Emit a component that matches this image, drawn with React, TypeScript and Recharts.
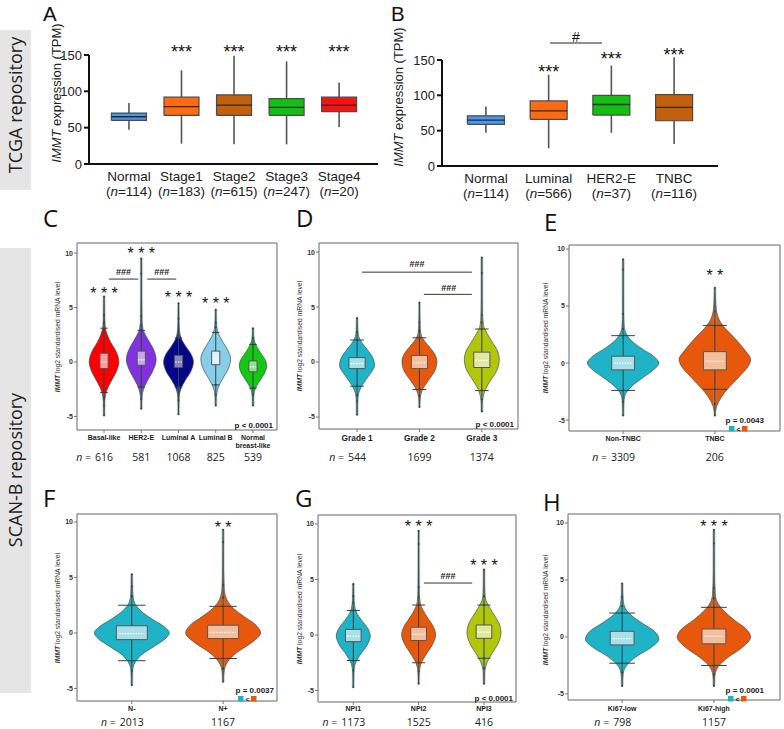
import React from "react";
import {
  ComposedChart,
  Area,
  Line,
  XAxis,
  YAxis,
  ReferenceDot,
  ReferenceLine,
  ReferenceArea,
} from "recharts";

// ---------- A: TCGA, tumour stage ----------
const stageCats = ["Normal", "Stage1", "Stage2", "Stage3", "Stage4"];
const stageCounts = [114, 183, 615, 247, 20];
// [min, q1, median, q3, max] in TPM
const stageStats = [
  [47, 60, 65, 70, 84],
  [28, 67, 79, 92, 129],
  [27, 67, 81, 95, 149],
  [27, 67, 78, 90, 141],
  [51, 72, 81, 92, 112],
];
const stageStars = [null, 155, 155, 155, 155];

// ---------- B: TCGA, subtype ----------
const subtypeCats = ["Normal", "Luminal", "HER2-E", "TNBC"];
const subtypeCounts = [114, 566, 37, 116];
const subtypeStats = [
  [47, 59, 65, 71, 84],
  [25, 66, 78, 92, 129],
  [47, 72, 87, 100, 142],
  [31, 64, 83, 101, 154],
];
const subtypeStars = [null, 134, 152.5, 158];

// ---------- C: SCAN-B, PAM50 ----------
const pamCats = [["Basal-like"], ["HER2-E"], ["Luminal A"], ["Luminal B"], ["Normal", "breast-like"]];
const pamCounts = [616, 581, 1068, 825, 539];
// density outline: [level, relative half width]
const pamBasal = [[-4.9, 0], [-3.8, 0.03], [-3.0, 0.1], [-2.3, 0.28], [-1.6, 0.55], [-0.8, 0.85], [0, 1], [0.6, 0.92], [1.2, 0.72], [1.8, 0.45], [2.5, 0.22], [3.2, 0.08], [4.3, 0.03], [6.0, 0]];
const pamHer2 = [[-4.3, 0], [-3.3, 0.04], [-2.5, 0.15], [-1.7, 0.42], [-0.8, 0.78], [0.2, 1], [0.9, 0.9], [1.6, 0.65], [2.3, 0.35], [3.0, 0.12], [4.0, 0.04], [6.0, 0.02], [9.5, 0]];
const pamLumA = [[-4.8, 0], [-3.3, 0.04], [-2.5, 0.15], [-1.7, 0.45], [-0.8, 0.85], [0, 1], [0.7, 0.85], [1.4, 0.5], [2.1, 0.2], [2.8, 0.07], [3.8, 0.03], [5.4, 0]];
const pamLumB = [[-4.0, 0], [-3.0, 0.05], [-2.3, 0.18], [-1.5, 0.48], [-0.6, 0.85], [0.3, 1], [1.1, 0.8], [1.9, 0.45], [2.6, 0.18], [3.3, 0.06], [4.8, 0]];
const pamNormal = [[-4.0, 0], [-3.0, 0.05], [-2.3, 0.2], [-1.6, 0.52], [-0.8, 0.85], [-0.3, 0.92], [0.3, 0.78], [0.9, 0.48], [1.5, 0.22], [2.1, 0.07], [3.1, 0]];
// [whisker low, q1, median, q3, whisker high]
const pamStats = [
  [-2.8, -0.6, 0.0, 0.8, 3.1],
  [-2.3, -0.3, 0.2, 1.0, 2.9],
  [-2.3, -0.5, 0.0, 0.6, 2.2],
  [-2.1, -0.25, 0.3, 1.0, 2.7],
  [-2.4, -0.9, -0.45, 0.1, 1.6],
];
const pamOutliers = [
  [-4.9, -4.0, -3.3, 3.6, 4.3, 6.0],
  [-4.3, -3.4, 3.4, 4.2, 8.1, 9.5],
  [-4.8, -3.5, -2.9, 2.8, 4.0, 5.4],
  [-4.0, -3.0, 3.2, 3.6, 4.8],
  [-4.0, -3.0, 2.2, 3.1],
];

// ---------- D: grade ----------
const gradeCats = [["Grade 1"], ["Grade 2"], ["Grade 3"]];
const gradeCounts = [544, 1699, 1374];
const grade1 = [[-4.8, 0], [-3.6, 0.03], [-2.8, 0.1], [-2.1, 0.3], [-1.3, 0.65], [-0.3, 1], [0.4, 0.9], [1.1, 0.6], [1.7, 0.3], [2.3, 0.1], [2.9, 0.04], [4.0, 0]];
const grade2 = [[-4.1, 0], [-3.2, 0.05], [-2.5, 0.18], [-1.7, 0.5], [-0.8, 0.88], [0, 1], [0.7, 0.88], [1.4, 0.55], [2.0, 0.25], [2.6, 0.08], [3.5, 0.03], [5.4, 0]];
const grade3 = [[-4.5, 0], [-3.5, 0.04], [-2.7, 0.15], [-1.8, 0.45], [-0.8, 0.85], [0.2, 1], [1.0, 0.9], [1.8, 0.6], [2.6, 0.3], [3.3, 0.1], [4.3, 0.04], [6.0, 0.015], [9.5, 0]];
const gradeStats = [
  [-2.2, -0.6, -0.15, 0.4, 2.0],
  [-2.5, -0.6, -0.05, 0.6, 2.2],
  [-2.6, -0.5, 0.15, 0.9, 3.0],
];
const gradeOutliers = [
  [-4.8, -3.6, -3.0, 2.7, 4.0],
  [-4.1, -3.1, 2.8, 3.6, 5.4],
  [-4.5, -3.4, 3.6, 4.3, 8.1, 9.5],
];

// ---------- E: TNBC ----------
const tnbcCats = [["Non-TNBC"], ["TNBC"]];
const tnbcCounts = [3309, 206];
const tnbcNo = [[-4.6, 0], [-3.4, 0.02], [-2.7, 0.07], [-2.1, 0.22], [-1.4, 0.5], [-0.6, 0.85], [0, 1], [0.6, 0.85], [1.3, 0.5], [1.9, 0.25], [2.5, 0.1], [3.2, 0.03], [4.5, 0.01], [9.1, 0]];
const tnbcYes = [[-4.6, 0], [-3.8, 0.05], [-3.0, 0.18], [-2.2, 0.38], [-1.2, 0.68], [-0.2, 0.95], [0.3, 1], [1.2, 0.82], [2.2, 0.55], [3.0, 0.3], [3.8, 0.12], [4.5, 0.05], [5.5, 0.02], [6.6, 0]];
const tnbcStats = [
  [-2.4, -0.6, 0.0, 0.6, 2.4],
  [-2.3, -0.6, 0.15, 1.0, 3.3],
];
const tnbcOutliers = [
  [-4.6, -3.4, 3.0, 4.3, 8.2, 9.1],
  [-4.6, -3.6, 4.5, 6.6],
];

// ---------- F: nodal status ----------
const nodeCats = [["N-"], ["N+"]];
const nodeCounts = [2013, 1167];
const nodeNeg = [[-4.7, 0], [-3.4, 0.02], [-2.7, 0.08], [-2.0, 0.25], [-1.2, 0.6], [-0.4, 0.93], [0, 1], [0.6, 0.85], [1.3, 0.52], [2.0, 0.24], [2.6, 0.09], [3.4, 0.03], [5.3, 0]];
const nodePos = [[-4.4, 0], [-3.4, 0.03], [-2.6, 0.12], [-1.8, 0.35], [-0.9, 0.75], [0, 1], [0.7, 0.88], [1.5, 0.55], [2.2, 0.28], [3.0, 0.1], [4.0, 0.03], [6.0, 0.01], [9.3, 0]];
const nodeStats = [
  [-2.5, -0.6, -0.05, 0.65, 2.5],
  [-2.3, -0.5, 0.05, 0.7, 2.4],
];
const nodeOutliers = [
  [-4.7, -3.4, 3.3, 4.2, 5.3],
  [-4.4, -3.2, 3.2, 4.3, 8.2, 9.3],
];

// ---------- G: NPI ----------
const npiCats = [["NPI1"], ["NPI2"], ["NPI3"]];
const npiCounts = [1173, 1525, 416];
const npi1 = [[-4.7, 0], [-3.4, 0.03], [-2.6, 0.12], [-1.8, 0.4], [-0.9, 0.82], [-0.1, 1], [0.6, 0.85], [1.3, 0.5], [2.0, 0.2], [2.7, 0.07], [3.5, 0.03], [4.6, 0]];
const npi2 = [[-4.4, 0], [-3.3, 0.04], [-2.6, 0.14], [-1.8, 0.42], [-0.9, 0.8], [0, 1], [0.7, 0.88], [1.5, 0.55], [2.2, 0.27], [2.9, 0.09], [4.0, 0.03], [6.0, 0.01], [9.4, 0]];
const npi3 = [[-4.4, 0], [-3.2, 0.05], [-2.4, 0.2], [-1.6, 0.5], [-0.7, 0.85], [0.2, 1], [1.0, 0.9], [1.8, 0.6], [2.5, 0.32], [3.1, 0.12], [3.8, 0.05], [5.9, 0]];
const npiStats = [
  [-2.3, -0.6, -0.1, 0.5, 2.2],
  [-2.5, -0.5, 0.05, 0.7, 2.7],
  [-2.1, -0.3, 0.25, 0.9, 2.7],
];
const npiOutliers = [
  [-4.7, -3.2, 2.9, 3.5, 4.6],
  [-4.4, -3.3, 3.4, 4.3, 8.2, 9.4],
  [-4.4, -3.0, 3.5, 5.9],
];

// ---------- H: Ki67 ----------
const kiCats = [["Ki67-low"], ["Ki67-high"]];
const kiCounts = [798, 1157];
const kiLow = [[-4.3, 0], [-3.2, 0.03], [-2.5, 0.12], [-1.7, 0.4], [-0.9, 0.8], [-0.2, 1], [0.5, 0.88], [1.2, 0.55], [1.9, 0.25], [2.5, 0.09], [3.2, 0.03], [4.7, 0]];
const kiHigh = [[-4.3, 0], [-3.3, 0.03], [-2.6, 0.12], [-1.8, 0.38], [-0.9, 0.78], [0, 1], [0.7, 0.88], [1.5, 0.55], [2.3, 0.27], [3.0, 0.1], [3.7, 0.04], [6.0, 0.01], [9.4, 0]];
const kiStats = [
  [-2.3, -0.7, -0.15, 0.5, 2.1],
  [-2.5, -0.6, 0.05, 0.7, 2.6],
];
const kiOutliers = [
  [-4.3, -3.1, 2.7, 3.5, 4.7],
  [-4.3, -3.3, 3.4, 4.3, 8.2, 9.4],
];

const CYAN = "#1fb3c8";
const CYAN_BOX = "#a6e0e8";
const ORANGE = "#e8580c";
const ORANGE_BOX = "#f5bd9c";
const LIME = "#b3c70a";
const LIME_BOX = "#e1e99f";

const ARIAL = "Liberation Sans, Arial, sans-serif";
const SANS = "Open Sans, Noto Sans, sans-serif";
const noAnim = { isAnimationActive: false, dot: false, activeDot: false } as any;
const hidden = () => <g />;

// ---------- box plot panel (A, B) ----------
const BoxTick = (props: any) => {
  const { x, y, payload, cats, counts } = props;
  const i = Math.round(payload.value);
  return (
    <g fontFamily={ARIAL} fontSize={13.5} fill="#222">
      <text x={x} y={y + 17} textAnchor="middle">{cats[i]}</text>
      <text x={x} y={y + 32} textAnchor="middle">
        (<tspan fontStyle="italic">n</tspan>={counts[i]})
      </text>
    </g>
  );
};

function BoxPanel(p: any) {
  const yw = 40;
  const xh = 40;
  const margin = {
    left: p.plot[0] - p.left - yw,
    right: p.left + p.width - p.plot[1],
    top: p.plot[2] - p.top,
    bottom: p.top + p.height - p.plot[3] - xh,
  };
  const bh = p.boxHalf;
  return (
    <div style={{ position: "absolute", left: p.left, top: p.top }}>
      <ComposedChart width={p.width} height={p.height} margin={margin}>
        <XAxis
          type="number"
          dataKey="x"
          domain={p.xDomain}
          ticks={p.cats.map((_: any, i: number) => i)}
          interval={0}
          height={xh}
          axisLine={{ stroke: "#111", strokeWidth: 2 }}
          tickLine={false}
          tickSize={0}
          tickMargin={0}
          tick={(t: any) => <BoxTick {...t} cats={p.cats} counts={p.counts} />}
        />
        <YAxis
          type="number"
          domain={[0, 160]}
          ticks={[0, 25, 50, 75, 100, 125, 150]}
          width={yw}
          axisLine={false}
          tickLine={{ stroke: "#111", strokeWidth: 2 }}
          tickSize={5}
          tick={{ fontSize: 13, fill: "#222", fontFamily: ARIAL }}
        />
        <ReferenceLine
          segment={[{ x: p.xDomain[0], y: 0 }, { x: p.xDomain[0], y: 150 }]}
          stroke="#111"
          strokeWidth={2}
          ifOverflow="visible"
        />
        {p.stats.map(([lo, q1, md, q3, hi]: number[], i: number) => [
          <Line key={`wl${i}`} data={[{ x: i, v: lo }, { x: i, v: q1 }]} dataKey="v" stroke="#555" strokeWidth={1.6} {...noAnim} />,
          <Line key={`wh${i}`} data={[{ x: i, v: q3 }, { x: i, v: hi }]} dataKey="v" stroke="#555" strokeWidth={1.6} {...noAnim} />,
          <Area key={`bx${i}`} data={[{ x: i - bh, r: [q1, q3] }, { x: i + bh, r: [q1, q3] }]} dataKey="r" type="linear" stroke="none" fill={p.fills[i]} fillOpacity={1} {...noAnim} />,
          <Line
            key={`bo${i}`}
            data={[
              { x: i - bh, v: q1 },
              { x: i + bh, v: q1 },
              { x: i + bh, v: q3 },
              { x: i - bh, v: q3 },
              { x: i - bh, v: q1 },
            ]}
            dataKey="v"
            stroke="#4a4a4a"
            strokeWidth={1.2}
            {...noAnim}
          />,
          <Line key={`md${i}`} data={[{ x: i - bh, v: md }, { x: i + bh, v: md }]} dataKey="v" stroke="#2a2a2a" strokeWidth={1.3} {...noAnim} />,
        ])}
        {p.stars.map((s: number | null, i: number) =>
          s == null ? null : (
            <ReferenceDot
              key={`st${i}`}
              x={i}
              y={s}
              r={0}
              ifOverflow="visible"
              shape={hidden}
              label={{ value: "***", position: "center", fontSize: 18, fill: "#111", fontFamily: ARIAL }}
            />
          )
        )}
        {p.bracket && (
          <ReferenceLine
            segment={[{ x: p.bracket[0], y: p.bracket[2] }, { x: p.bracket[1], y: p.bracket[2] }]}
            stroke="#222"
            strokeWidth={1.2}
            ifOverflow="visible"
          />
        )}
        {p.bracket && (
          <ReferenceDot
            x={(p.bracket[0] + p.bracket[1]) / 2}
            y={p.bracket[3]}
            r={0}
            ifOverflow="visible"
            shape={hidden}
            label={{ value: "#", position: "center", fontSize: 14, fill: "#111", fontFamily: ARIAL }}
          />
        )}
      </ComposedChart>
    </div>
  );
}

// ---------- violin panel (C - H) ----------
const ViolinTick = (props: any) => {
  const { x, y, payload, cats, counts, labelSize, labelDy, countDy } = props;
  const i = Math.round(payload.value);
  const base = y - 3;
  const numW = String(counts[i]).length * 6;
  return (
    <g>
      {cats[i].map((t: string, k: number) => (
        <text key={k} x={x} y={base + labelDy + k * 8} textAnchor="middle" fontSize={labelSize} fontWeight={700} fontFamily={ARIAL} fill="#222">
          {t}
        </text>
      ))}
      <text x={x} y={base + countDy} textAnchor="middle" fontSize={10.5} fontFamily={SANS} fill="#222">
        {counts[i]}
      </text>
      {i === 0 && (
        <text x={x - numW / 2 - 4} y={base + countDy} textAnchor="end" fontSize={10.5} fontFamily={SANS} fill="#222">
          <tspan fontStyle="italic">n</tspan> =
        </text>
      )}
    </g>
  );
};

function ViolinPanel(p: any) {
  const yw = p.yw ?? 20;
  const xh = p.xh;
  const margin = {
    left: p.plot[0] - p.left - yw,
    right: p.left + p.width - p.plot[1],
    top: p.plot[2] - p.top,
    bottom: p.top + p.height - p.plot[3] - xh,
  };
  const hw = p.halfWidth;
  const bh = p.boxHalf;
  const ch = p.capHalf;
  return (
    <div style={{ position: "absolute", left: p.left, top: p.top }}>
      <ComposedChart layout="vertical" width={p.width} height={p.height} margin={margin}>
        <XAxis
          type="number"
          domain={p.xDomain}
          ticks={p.cats.map((_: any, i: number) => i)}
          interval={0}
          height={xh}
          axisLine={false}
          tickLine={{ stroke: "#777" }}
          tickSize={3}
          tickMargin={0}
          tick={(t: any) => (
            <ViolinTick {...t} cats={p.cats} counts={p.counts} labelSize={p.labelSize} labelDy={p.labelDy} countDy={p.countDy} />
          )}
        />
        <YAxis
          type="number"
          dataKey="y"
          reversed
          domain={p.yDomain}
          ticks={[-5, 0, 5, 10]}
          width={yw}
          axisLine={false}
          tickLine={{ stroke: "#777" }}
          tickSize={3}
          tickMargin={1}
          tick={{ fontSize: 7, fontWeight: 700, fill: "#333", fontFamily: ARIAL }}
        />
        <ReferenceArea
          x1={p.xDomain[0]}
          x2={p.xDomain[1]}
          y1={p.yDomain[0]}
          y2={p.yDomain[1]}
          fill="none"
          stroke="#666"
          strokeWidth={1}
          ifOverflow="visible"
        />
        {p.profiles.map((prof: number[][], i: number) => {
          const [wlo, q1, md, q3, whi] = p.stats[i];
          const outs = p.outliers[i];
          const lower = [...outs.filter((v: number) => v < wlo), wlo].map((v: number) => ({ y: v, v: i }));
          const upper = [whi, ...outs.filter((v: number) => v > whi)].map((v: number) => ({ y: v, v: i }));
          return [
            <Area
              key={`vi${i}`}
              data={prof.map(([y, w]) => ({ y, r: [i - w * hw, i + w * hw] }))}
              dataKey="r"
              type="monotone"
              fill={p.fills[i]}
              fillOpacity={1}
              stroke="#3e4e4e"
              strokeWidth={0.7}
              {...noAnim}
            />,
            <Line key={`gl${i}`} data={lower} dataKey="v" stroke="#6f9090" strokeOpacity={0.5} strokeWidth={3} {...noAnim} />,
            <Line key={`gu${i}`} data={upper} dataKey="v" stroke="#6f9090" strokeOpacity={0.5} strokeWidth={3} {...noAnim} />,
            <Line
              key={`tl${i}`}
              data={lower}
              dataKey="v"
              stroke="#2c4444"
              strokeWidth={0.8}
              isAnimationActive={false}
              activeDot={false}
              dot={{ r: 1, fill: "#2c4444", stroke: "none" }}
            />,
            <Line
              key={`tu${i}`}
              data={upper}
              dataKey="v"
              stroke="#2c4444"
              strokeWidth={0.8}
              isAnimationActive={false}
              activeDot={false}
              dot={{ r: 1, fill: "#2c4444", stroke: "none" }}
            />,
            <Line key={`wl${i}`} data={[{ y: wlo, v: i }, { y: q1, v: i }]} dataKey="v" stroke="#2c4444" strokeWidth={1} {...noAnim} />,
            <Line key={`wh${i}`} data={[{ y: q3, v: i }, { y: whi, v: i }]} dataKey="v" stroke="#2c4444" strokeWidth={1} {...noAnim} />,
            <Line key={`cl${i}`} data={[{ y: wlo, v: i - ch }, { y: wlo, v: i + ch }]} dataKey="v" stroke="#2c4444" strokeWidth={1} {...noAnim} />,
            <Line key={`ch${i}`} data={[{ y: whi, v: i - ch }, { y: whi, v: i + ch }]} dataKey="v" stroke="#2c4444" strokeWidth={1} {...noAnim} />,
            <Area
              key={`bx${i}`}
              data={[{ y: q1, r: [i - bh, i + bh] }, { y: q3, r: [i - bh, i + bh] }]}
              dataKey="r"
              type="linear"
              fill={p.boxFills[i]}
              fillOpacity={1}
              stroke="none"
              {...noAnim}
            />,
            <Line
              key={`bo${i}`}
              data={[
                { y: q1, v: i - bh },
                { y: q1, v: i + bh },
                { y: q3, v: i + bh },
                { y: q3, v: i - bh },
                { y: q1, v: i - bh },
              ]}
              dataKey="v"
              stroke="#555"
              strokeWidth={1}
              {...noAnim}
            />,
            <Line
              key={`md${i}`}
              data={[{ y: md, v: i - bh * 0.8 }, { y: md, v: i + bh * 0.8 }]}
              dataKey="v"
              stroke="#ffffff"
              strokeWidth={1.2}
              strokeDasharray="1.5 1.2"
              {...noAnim}
            />,
          ];
        })}
        {(p.stars || []).map((s: any, k: number) => (
          <ReferenceDot
            key={`st${k}`}
            x={s.x}
            y={s.y}
            r={0}
            ifOverflow="visible"
            shape={hidden}
            label={{ value: s.text, position: "center", fontSize: 16, fill: "#111", fontFamily: ARIAL }}
          />
        ))}
        {(p.brackets || []).map((b: any, k: number) => (
          <ReferenceLine
            key={`br${k}`}
            segment={[{ x: b.x1, y: b.y }, { x: b.x2, y: b.y }]}
            stroke="#333"
            strokeWidth={1}
            ifOverflow="visible"
          />
        ))}
        {(p.brackets || []).map((b: any, k: number) => (
          <ReferenceDot
            key={`bl${k}`}
            x={b.lx}
            y={b.ly}
            r={0}
            ifOverflow="visible"
            shape={hidden}
            label={{ value: "###", position: "center", fontSize: 9, fontWeight: 700, fill: "#222", fontFamily: ARIAL }}
          />
        ))}
      </ComposedChart>
    </div>
  );
}

// ---------- static text overlay ----------
const Letter = ({ x, y, t, s = 24, f = SANS }: any) => (
  <text x={x} y={y} fontSize={s} fontFamily={f} fill="#111">
    {t}
  </text>
);

const ViolinTitle = ({ x, y }: any) => (
  <text x={x} y={y} transform={`rotate(-90 ${x} ${y})`} textAnchor="middle" fontSize={6.8} fontFamily={ARIAL} fill="#333">
    <tspan fontWeight={700} fontStyle="italic">IMMT</tspan> log2 standardised mRNA level
  </text>
);

const PText = ({ x, y, t }: any) => (
  <text x={x} y={y} textAnchor="end" fontSize={8} fontWeight={700} fontFamily={ARIAL} fill="#222">
    {t}
  </text>
);

const Legend = ({ x, y }: any) => (
  <g>
    <rect x={x} y={y} width={5.5} height={5.5} fill={CYAN} />
    <text x={x + 9.5} y={y + 5.5} textAnchor="middle" fontSize={7} fontWeight={700} fontFamily={ARIAL} fill="#222">{"<"}</text>
    <rect x={x + 13} y={y} width={5.5} height={5.5} fill={ORANGE} />
  </g>
);

const Overlay = () => (
  <svg width={784} height={729} style={{ position: "absolute", left: 0, top: 0, pointerEvents: "none" }}>
    <rect x={0} y={30} width={31} height={160} fill="#e5e5e5" />
    <rect x={0} y={248} width={31} height={445} fill="#e5e5e5" />
    <text x={22} y={105} transform="rotate(-90 22 105)" textAnchor="middle" fontSize={18} fontFamily={SANS} fill="#222">
      TCGA repository
    </text>
    <text x={22} y={470} transform="rotate(-90 22 470)" textAnchor="middle" fontSize={18} fontFamily={SANS} fill="#222">
      SCAN-B repository
    </text>
    <Letter x={43} y={21} t="A" s={20.5} f={ARIAL} />
    <Letter x={391} y={21} t="B" s={20.5} f={ARIAL} />
    <Letter x={43} y={227} t="C" />
    <Letter x={296} y={227} t="D" />
    <Letter x={544} y={231} t="E" />
    <Letter x={43} y={507} t="F" />
    <Letter x={295} y={507} t="G" />
    <Letter x={543} y={511} t="H" />
    <text x={61} y={93} transform="rotate(-90 61 93)" textAnchor="middle" fontSize={13} fontFamily={ARIAL} fill="#222">
      <tspan fontStyle="italic">IMMT</tspan> expression (TPM)
    </text>
    <text x={403} y={97} transform="rotate(-90 403 97)" textAnchor="middle" fontSize={13} fontFamily={ARIAL} fill="#222">
      <tspan fontStyle="italic">IMMT</tspan> expression (TPM)
    </text>
    <ViolinTitle x={60} y={337} />
    <ViolinTitle x={302} y={336} />
    <ViolinTitle x={548} y={338} />
    <ViolinTitle x={60} y={608} />
    <ViolinTitle x={302} y={609} />
    <ViolinTitle x={548} y={610} />
    <PText x={273} y={428} t="p < 0.0001" />
    <PText x={514} y={427} t="p < 0.0001" />
    <PText x={764} y={423} t="p = 0.0043" />
    <Legend x={729} y={426} />
    <PText x={274} y={693} t="p = 0.0037" />
    <Legend x={238} y={696} />
    <PText x={513} y={701} t="p < 0.0001" />
    <PText x={764} y={693} t="p = 0.0001" />
    <Legend x={728} y={696} />
  </svg>
);

export default function App() {
  return (
    <div style={{ position: "absolute", left: 0, top: 0, width: 784, height: 729, overflow: "hidden", background: "#fff" }}>
      <BoxPanel
        left={0} top={0} width={392} height={205}
        plot={[89, 378, 47.7, 164]}
        xDomain={[-0.76, 4.74]}
        cats={stageCats} counts={stageCounts} stats={stageStats}
        fills={["#4a98ee", "#ff6a13", "#c2600b", "#12c012", "#ff1010"]}
        boxHalf={0.333}
        stars={stageStars}
      />
      <BoxPanel
        left={392} top={0} width={392} height={205}
        plot={[442, 718, 52.9, 166]}
        xDomain={[-0.7, 3.7]}
        cats={subtypeCats} counts={subtypeCounts} stats={subtypeStats}
        fills={["#4a98ee", "#ff6a13", "#12c012", "#c2600b"]}
        boxHalf={0.295}
        stars={subtypeStars}
        bracket={[1.02, 1.85, 174, 182.5]}
      />
      <ViolinPanel
        left={40} top={236} width={252} height={236} xh={36}
        plot={[77, 277, 243, 430]}
        xDomain={[-0.726, 4.645]} yDomain={[-6.24, 10.92]}
        cats={pamCats} counts={pamCounts}
        profiles={[pamBasal, pamHer2, pamLumA, pamLumB, pamNormal]}
        stats={pamStats} outliers={pamOutliers}
        fills={["#ff0000", "#8131dd", "#06068a", "#87ceeb", "#12c812"]}
        boxFills={["#ff9c9c", "#c7a5f0", "#8585c4", "#e0f3fb", "#8fe28f"]}
        halfWidth={0.4} boxHalf={0.11} capHalf={0.1}
        labelSize={7} labelDy={9.5} countDy={30.5}
        stars={[
          { x: 0, y: 6.26, text: "* * *" },
          { x: 1, y: 10.0, text: "* * *" },
          { x: 2, y: 5.98, text: "* * *" },
          { x: 3, y: 5.34, text: "* * *" },
        ]}
        brackets={[
          { x1: 0.13, x2: 0.92, y: 7.61, lx: 0.52, ly: 8.26 },
          { x1: 1.16, x2: 1.94, y: 7.61, lx: 1.55, ly: 8.26 },
        ]}
      />
      <ViolinPanel
        left={300} top={236} width={236} height={236} xh={36} yw={18}
        plot={[319, 518, 243, 429]}
        xDomain={[-0.61, 2.58]} yDomain={[-6.09, 10.82]}
        cats={gradeCats} counts={gradeCounts}
        profiles={[grade1, grade2, grade3]}
        stats={gradeStats} outliers={gradeOutliers}
        fills={[CYAN, ORANGE, LIME]}
        boxFills={[CYAN_BOX, ORANGE_BOX, LIME_BOX]}
        halfWidth={0.28} boxHalf={0.13} capHalf={0.11}
        labelSize={8.3} labelDy={12} countDy={31.5}
        brackets={[
          { x1: 0.08, x2: 1.84, y: 8.17, lx: 0.96, ly: 8.9 },
          { x1: 1.07, x2: 1.84, y: 6.15, lx: 1.47, ly: 6.79 },
        ]}
      />
      <ViolinPanel
        left={548} top={236} width={236} height={236} xh={36}
        plot={[569, 780, 245, 431]}
        xDomain={[-0.59, 1.71]} yDomain={[-5.96, 10.35]}
        cats={tnbcCats} counts={tnbcCounts}
        profiles={[tnbcNo, tnbcYes]}
        stats={tnbcStats} outliers={tnbcOutliers}
        fills={[CYAN, ORANGE]}
        boxFills={[CYAN_BOX, ORANGE_BOX]}
        halfWidth={0.39} boxHalf={0.125} capHalf={0.13}
        labelSize={7} labelDy={10.2} countDy={29.5}
        stars={[{ x: 1, y: 7.7, text: "* *" }]}
      />
      <ViolinPanel
        left={40} top={506} width={252} height={223} xh={28}
        plot={[77, 277, 514, 701]}
        xDomain={[-0.6, 1.59]} yDomain={[-6.13, 10.72]}
        cats={nodeCats} counts={nodeCounts}
        profiles={[nodeNeg, nodePos]}
        stats={nodeStats} outliers={nodeOutliers}
        fills={[CYAN, ORANGE]}
        boxFills={[CYAN_BOX, ORANGE_BOX]}
        halfWidth={0.41} boxHalf={0.17} capHalf={0.15}
        labelSize={7} labelDy={10.2} countDy={24.5}
        stars={[{ x: 1, y: 9.55, text: "* *" }]}
      />
      <ViolinPanel
        left={300} top={506} width={236} height={223} xh={27} yw={18}
        plot={[318, 516, 515, 702]}
        xDomain={[-0.54, 2.49]} yDomain={[-6.04, 10.81]}
        cats={npiCats} counts={npiCounts}
        profiles={[npi1, npi2, npi3]}
        stats={npiStats} outliers={npiOutliers}
        fills={[CYAN, ORANGE, LIME]}
        boxFills={[CYAN_BOX, ORANGE_BOX, LIME_BOX]}
        halfWidth={0.26} boxHalf={0.12} capHalf={0.1}
        labelSize={7} labelDy={9.3} countDy={23.5}
        stars={[
          { x: 1, y: 9.8, text: "* * *" },
          { x: 2, y: 6.3, text: "* * *" },
        ]}
        brackets={[{ x1: 1.08, x2: 1.82, y: 4.68, lx: 1.45, ly: 5.3 }]}
      />
      <ViolinPanel
        left={548} top={506} width={236} height={223} xh={29}
        plot={[568, 780, 514, 700]}
        xDomain={[-0.59, 1.72]} yDomain={[-5.53, 10.79]}
        cats={kiCats} counts={kiCounts}
        profiles={[kiLow, kiHigh]}
        stats={kiStats} outliers={kiOutliers}
        fills={[CYAN, ORANGE]}
        boxFills={[CYAN_BOX, ORANGE_BOX]}
        halfWidth={0.4} boxHalf={0.13} capHalf={0.14}
        labelSize={7} labelDy={11.3} countDy={25.5}
        stars={[{ x: 1, y: 9.7, text: "* * *" }]}
      />
      <Overlay />
    </div>
  );
}
